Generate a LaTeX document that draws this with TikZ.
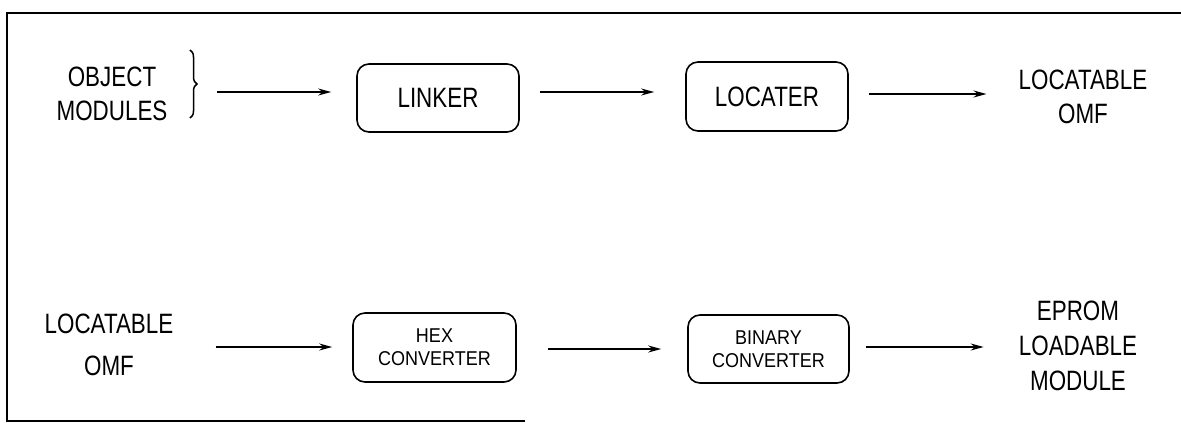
\documentclass[tikz,border=0pt]{standalone}
\usepackage{fontspec}
\newfontfamily\plotfont[FakeStretch=0.8]{Liberation Sans}
\newfontfamily\plotsmallfont[FakeStretch=0.9]{Liberation Sans}
\usetikzlibrary{arrows.meta,decorations.pathreplacing}
\begin{document}
\begin{tikzpicture}[x=1pt,y=-1pt,
  bigtext/.style={font=\plotfont\fontsize{28}{34}\selectfont, align=center, inner sep=0pt},
  procbox/.style={draw, line width=1.6pt, rounded corners=12pt, inner sep=0pt, align=center},
  smallbox/.style={procbox, font=\plotsmallfont\fontsize{20}{23}\selectfont},
  arr/.style={line width=1.5pt, -{Stealth[length=13pt,width=7pt]}},
  frameline/.style={line width=2.5pt}]
\useasboundingbox (0,0) rectangle (1181,423);
% frame
\draw[frameline] (1181,13) -- (7,13) -- (7,421) -- (525,421);
% top row
\node[bigtext] (obj) at (112,93.5) {OBJECT\\MODULES};
\draw[line width=1.5pt, decoration={brace, amplitude=7pt, aspect=0.5}, decorate] (190,50) -- (190,118);
\coordinate (brc) at (197,92);
\node[procbox, minimum width=162pt, minimum height=68pt, font=\plotfont\fontsize{28}{34}\selectfont] (linker) at (438,98) {LINKER};
\node[procbox, minimum width=162pt, minimum height=69pt, font=\plotfont\fontsize{28}{34}\selectfont] (locater) at (767,96.5) {LOCATER};
\node[bigtext] (lomf) at (1083,96.5) {LOCATABLE\\OMF};
\draw[arr, shorten <=20pt, shorten >=25pt] (brc) -- (linker.west |- brc);
\draw[arr, shorten <=20pt, shorten >=31pt] (linker.east |- 0,92) -- (locater.west |- 0,92);
\draw[arr, shorten <=20pt, shorten >=32pt] (locater.east |- 0,94) -- (lomf.west |- 0,94);
% bottom row
\node[bigtext, font=\plotfont\fontsize{28}{42}\selectfont] (lomf2) at (109,344.5) {LOCATABLE\\OMF};
\node[smallbox, minimum width=163pt, minimum height=69pt] (hex) at (434.5,347.5) {HEX\\CONVERTER};
\node[smallbox, minimum width=161pt, minimum height=68pt] (bin) at (768.5,349) {BINARY\\CONVERTER};
\node[bigtext, font=\plotfont\fontsize{28}{35}\selectfont] (eprom) at (1078,346) {EPROM\\LOADABLE\\MODULE};
\draw[arr, shorten <=42pt, shorten >=20pt] (lomf2.east |- 0,347) -- (hex.west |- 0,347);
\draw[arr, shorten <=31pt, shorten >=26pt] (hex.east |- 0,349) -- (bin.west |- 0,349);
\draw[arr, shorten <=16pt, shorten >=35pt] (bin.east |- 0,347) -- (eprom.west |- 0,347);
\end{tikzpicture}
\end{document}
